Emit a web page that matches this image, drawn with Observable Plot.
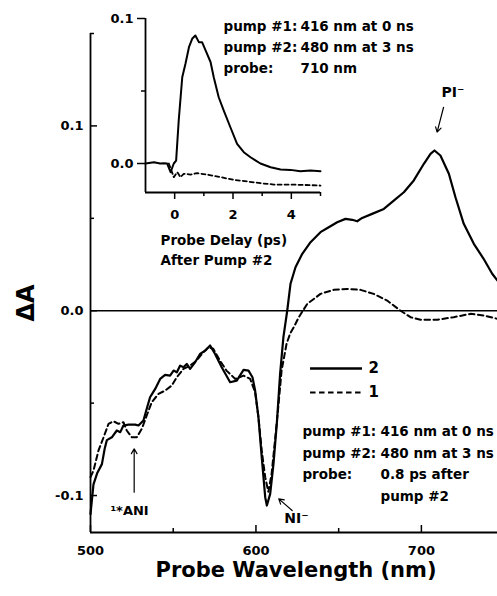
<!DOCTYPE html>
<html><head><meta charset="utf-8">
<script src="https://cdn.jsdelivr.net/npm/d3@7"></script>
<script src="https://cdn.jsdelivr.net/npm/@observablehq/plot@0.6"></script>
<style>
body{margin:0;background:#fff;}
#wrap{position:relative;width:497px;height:596px;overflow:hidden;background:#fff;}
#wrap svg{position:absolute;left:0;top:0;}
</style></head><body><div id="wrap"></div>
<script>
const FONT = "DejaVu Sans";

// ---- Main spectrum: series "2" (solid) ----
const wl2 = [500,501.8,504,506.9,508.5,509.9,512.9,515.9,518,519.9,523,527,529,532,534,536,539.1,542.1,545.1,548.1,550.2,552.2,554.2,556.2,558.2,560.2,563.2,566.2,569.3,572.3,575.3,579.3,584.4,588.4,592.5,595.5,597.9,599.5,601.5,603.5,605.6,606.6,608.6,610.6,612.6,614.6,616.6,618.9,620.9,623.9,628,633,639,644,649.1,654.1,658.2,661.2,664.2,670.2,677.3,683.3,689.4,695.4,701.5,705.5,707.9,711.5,716.6,720.6,725.6,731.7,737.6,742.8,746];
const dA2 = [-0.110,-0.094,-0.088,-0.083,-0.075,-0.070,-0.0685,-0.0648,-0.0657,-0.0621,-0.0616,-0.0616,-0.0621,-0.0594,-0.053,-0.0468,-0.0423,-0.0369,-0.0347,-0.0351,-0.0324,-0.0333,-0.0297,-0.0306,-0.0288,-0.0315,-0.0279,-0.0234,-0.0216,-0.0188,-0.0234,-0.0306,-0.0387,-0.0378,-0.0320,-0.0324,-0.0360,-0.0432,-0.0576,-0.0793,-0.1009,-0.1054,-0.0991,-0.0829,-0.0612,-0.0342,-0.0143,0.0,0.0146,0.0235,0.0308,0.0371,0.0425,0.0452,0.0479,0.0497,0.0492,0.0484,0.0502,0.0524,0.0551,0.0596,0.0641,0.0705,0.0795,0.0849,0.0867,0.0840,0.0741,0.0614,0.0470,0.0362,0.0281,0.0200,0.0163];

// ---- Main spectrum: series "1" (dashed) ----
const wl1 = [500,501.8,504.8,507.9,510.9,513.9,516.9,519.9,521.9,525,528,531,534,537,541.1,545.1,549.1,552.2,556.2,560.2,564.2,568.2,571.2,574.2,578.2,582.2,587.5,592.5,596.5,599.5,601.5,603.5,605.6,607.5,609.5,611.5,613.5,615.5,618.5,620.6,622.9,625.9,631,639,647,655.1,663.2,671.2,679.3,687.4,693.4,699.5,709.5,719.5,729.7,737.6,746];
const dA1 = [-0.090,-0.0865,-0.0757,-0.0685,-0.0612,-0.0598,-0.0612,-0.0603,-0.0648,-0.0685,-0.0685,-0.0639,-0.0567,-0.0495,-0.045,-0.0432,-0.0405,-0.036,-0.0315,-0.0297,-0.0269,-0.0225,-0.0198,-0.0206,-0.0269,-0.0324,-0.0369,-0.0351,-0.0369,-0.0441,-0.0576,-0.0756,-0.0901,-0.098,-0.0880,-0.0702,-0.0522,-0.0324,-0.0179,-0.0125,-0.0089,-0.0035,0.0037,0.0091,0.0113,0.0118,0.0113,0.0091,0.0055,0.0,-0.0035,-0.0049,-0.0049,-0.0035,-0.0017,-0.0026,-0.0044];

// ---- Inset kinetics (probe 710 nm) ----
const tSolid = [-1,-0.71,-0.5,-0.37,-0.26,-0.14,-0.03,0.05,0.14,0.26,0.37,0.49,0.6,0.71,0.83,0.94,1.06,1.23,1.34,1.51,1.68,1.91,2.14,2.37,2.6,2.94,3.29,3.63,3.97,4.31,4.66,5];
const vSolid = [0.0,0.0009,0.0,0.0002,0.0,-0.006,0.0,0.002,0.030,0.0595,0.0688,0.0802,0.086,0.0883,0.0837,0.0837,0.078,0.070,0.0595,0.0457,0.0366,0.025,0.0136,0.0078,0.0043,0.0,-0.0026,-0.0041,-0.0044,-0.0053,-0.0048,-0.0053];
const tDashed = [-0.2,-0.03,0.09,0.2,0.31,0.54,0.77,1.11,1.57,2.03,2.49,2.94,3.4,3.86,4.31,5];
const vDashed = [0.0,-0.0094,-0.006,-0.0094,-0.0071,-0.0076,-0.0067,-0.0076,-0.0094,-0.0113,-0.0124,-0.0136,-0.0145,-0.0145,-0.0147,-0.0152];

// ---- Ticks ----
const xMajor = [500, 600, 700];
const xMinor = [550, 650];
const yMajor = [-0.1, 0, 0.1];
const yMinor = [-0.05, 0.05, 0.15];
const insetXMajor = [0, 2, 4];
const insetXMinor = [1, 3, 5];
const insetYMajor = [0, 0.1];
const insetYMinor = [0.05];

// ---- Texts ----
const blockCol1 = "pump #1:\npump #2:\nprobe:";
const blockCol2 = "416 nm at 0 ns\n480 nm at 3 ns\n0.8 ps after\npump #2";
const insetCol1 = "pump #1:\npump #2:\nprobe:";
const insetCol2 = "416 nm at 0 ns\n480 nm at 3 ns\n710 nm";
const insetXLabel = "Probe Delay (ps)\nAfter Pump #2";
const peakLabels = [
  {label: "PI\u207B", x: 719.1, y: 0.1154, anchor: "middle", size: 14},
  {label: "\u00B9*ANI", x: 523.6, y: -0.1108, anchor: "start", size: 13},
  {label: "NI\u207B", x: 624.5, y: -0.1151, anchor: "start", size: 14}
];
const arrows = [
  {x1: 713.4, y1: 0.1101, x2: 709.5, y2: 0.0966},
  {x1: 526.4, y1: -0.0982, x2: 526.4, y2: -0.0747},
  {x1: 621.9, y1: -0.1081, x2: 613.8, y2: -0.1018}
];
const legendSolid = [{label: "2", y: -0.0313}];
const legendDashed = [{label: "1", y: -0.0443}];

const solidMain = wl2.map((w, i) => ({wl: w, dA: dA2[i]}));
const dashedMain = wl1.map((w, i) => ({wl: w, dA: dA1[i]}));
const insetSolid = tSolid.map((t, i) => ({t, v: vSolid[i]}));
const insetDashed = tDashed.map((t, i) => ({t, v: vDashed[i]}));

const main = Plot.plot({
  width: 497, height: 596,
  marginLeft: 90, marginRight: 0, marginTop: 33, marginBottom: 64,
  x: {domain: [500, 746], label: null},
  y: {domain: [-0.12, 0.15], label: null},
  style: {fontFamily: FONT, fontWeight: "bold", background: "white", color: "black"},
  marks: [
    Plot.ruleX([500], {strokeWidth: 1.8}),
    Plot.ruleY([-0.12], {strokeWidth: 1.8}),
    Plot.ruleY([0], {strokeWidth: 1.4}),
    Plot.axisY({ticks: yMajor, tickSize: 7, dx: 7, tickFormat: () => "", strokeWidth: 1.5}),
    Plot.axisY({ticks: yMinor, tickSize: 4, dx: 4, tickFormat: () => "", strokeWidth: 1.5}),
    Plot.axisY({ticks: yMajor, tickSize: 0, tickPadding: 7, tickFormat: d => d.toFixed(1), fontSize: 13, fontWeight: "bold"}),
    Plot.axisX({ticks: xMajor, tickSize: 7, dy: -7, tickFormat: () => "", strokeWidth: 1.5}),
    Plot.axisX({ticks: xMinor, tickSize: 4, dy: -4, tickFormat: () => "", strokeWidth: 1.5}),
    Plot.axisX({ticks: xMajor, tickSize: 0, tickPadding: 13, tickFormat: d => String(d), fontSize: 13, fontWeight: "bold"}),
    Plot.line(dashedMain, {x: "wl", y: "dA", strokeWidth: 2, strokeDasharray: "5.5,3.5"}),
    Plot.line(solidMain, {x: "wl", y: "dA", strokeWidth: 2.2}),
    Plot.ruleY(legendSolid, {y: "y", x1: 633, x2: 664.4, strokeWidth: 2.4}),
    Plot.ruleY(legendDashed, {y: "y", x1: 633, x2: 664.4, strokeWidth: 2, strokeDasharray: "5.5,3.5"}),
    Plot.text(legendSolid.concat(legendDashed), {x: 668, y: "y", text: "label", textAnchor: "start", lineAnchor: "middle", fontSize: 15, fontWeight: "bold"}),
    Plot.text([blockCol1], {x: 628.1, y: -0.0595, text: d => d, textAnchor: "start", lineAnchor: "top", lineHeight: 1.6, fontSize: 13.5, fontWeight: "bold"}),
    Plot.text([blockCol2], {x: 675.3, y: -0.0595, text: d => d, textAnchor: "start", lineAnchor: "top", lineHeight: 1.6, fontSize: 13.5, fontWeight: "bold"}),
    Plot.text(peakLabels, {x: "x", y: "y", text: "label", textAnchor: d => d.anchor, lineAnchor: "bottom", fontSize: d => d.size, fontWeight: "bold"}),
    Plot.arrow(arrows, {x1: "x1", y1: "y1", x2: "x2", y2: "y2", strokeWidth: 1.2, headLength: 7}),
    Plot.text(["\u0394A"], {frameAnchor: "left", text: d => d, dx: -64, dy: 20, rotate: -90, fontSize: 24, fontWeight: "bold", textAnchor: "middle", lineAnchor: "middle"}),
    Plot.text(["Probe Wavelength (nm)"], {frameAnchor: "bottom", text: d => d, dx: 2, dy: 44.7, fontSize: 21, fontWeight: "bold", textAnchor: "middle", lineAnchor: "bottom"})
  ]
});

const inset = Plot.plot({
  width: 430, height: 270,
  marginLeft: 145, marginRight: 110, marginTop: 18, marginBottom: 78,
  x: {domain: [-1, 5], label: null},
  y: {domain: [-0.02, 0.1], label: null},
  style: {fontFamily: FONT, fontWeight: "bold", background: "transparent", overflow: "visible", color: "black"},
  marks: [
    Plot.ruleX([-1], {strokeWidth: 1.8}),
    Plot.ruleY([-0.02], {strokeWidth: 1.8}),
    Plot.axisY({ticks: insetYMajor, tickSize: 8, tickPadding: 4, tickFormat: d => d.toFixed(1), fontSize: 13, fontWeight: "bold", strokeWidth: 1.5}),
    Plot.axisY({ticks: insetYMinor, tickSize: 4, tickFormat: () => "", strokeWidth: 1.5}),
    Plot.axisX({ticks: insetXMajor, tickSize: 7, tickPadding: 10, tickFormat: d => String(d), fontSize: 13, fontWeight: "bold", strokeWidth: 1.5}),
    Plot.axisX({ticks: insetXMinor, tickSize: 4, tickFormat: () => "", strokeWidth: 1.5}),
    Plot.line(insetDashed, {x: "t", y: "v", strokeWidth: 1.8, strokeDasharray: "4,3"}),
    Plot.line(insetSolid, {x: "t", y: "v", strokeWidth: 2}),
    Plot.text([insetCol1], {x: 1.674, y: 0.102, text: d => d, textAnchor: "start", lineAnchor: "top", lineHeight: 1.58, fontSize: 13.5, fontWeight: "bold"}),
    Plot.text([insetCol2], {x: 4.314, y: 0.102, text: d => d, textAnchor: "start", lineAnchor: "top", lineHeight: 1.58, fontSize: 13.5, fontWeight: "bold"}),
    Plot.text([insetXLabel], {x: -0.486, y: -0.0463, text: d => d, textAnchor: "start", lineAnchor: "top", lineHeight: 1.5, fontSize: 13.5, fontWeight: "bold"})
  ]
});

const wrap = document.getElementById("wrap");
wrap.appendChild(main);
wrap.appendChild(inset);
</script></body></html>
